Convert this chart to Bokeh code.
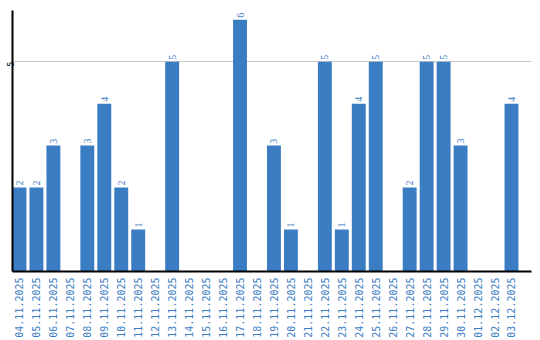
import math
from bokeh.plotting import figure
from bokeh.models import ColumnDataSource, Range1d, FixedTicker, LabelSet
from bokeh.embed import file_html
from bokeh.resources import INLINE

dates = ["04.11.2025", "05.11.2025", "06.11.2025", "07.11.2025", "08.11.2025",
         "09.11.2025", "10.11.2025", "11.11.2025", "12.11.2025", "13.11.2025",
         "14.11.2025", "15.11.2025", "16.11.2025", "17.11.2025", "18.11.2025",
         "19.11.2025", "20.11.2025", "21.11.2025", "22.11.2025", "23.11.2025",
         "24.11.2025", "25.11.2025", "26.11.2025", "27.11.2025", "28.11.2025",
         "29.11.2025", "30.11.2025", "01.12.2025", "02.12.2025", "03.12.2025"]
counts = [2, 2, 3, 0, 3, 4, 2, 1, 0, 5,
          0, 0, 0, 6, 0, 3, 1, 0, 5, 1,
          4, 5, 0, 2, 5, 5, 3, 0, 0, 4]
y_ticks = [5]

BLUE = "#3b7dc3"
FONT = "DejaVu Sans Mono"

xs = list(range(len(dates)))
nz = [i for i, c in enumerate(counts) if c > 0]
src = ColumnDataSource(dict(x=xs, y=counts))
lab_src = ColumnDataSource(dict(x=[xs[i] for i in nz], y=[counts[i] for i in nz],
                                t=[str(counts[i]) for i in nz]))

p = figure(width=540, height=340, output_backend="svg", toolbar_location=None,
           x_range=Range1d(-0.41, len(dates) + 0.18), y_range=Range1d(0, 6.22),
           min_border_left=0, min_border_right=9, min_border_top=10, min_border_bottom=0)
p.outline_line_color = None
p.background_fill_color = "white"

p.vbar(x="x", top="y", width=0.82, source=src, color=BLUE, line_color=None)

labels = LabelSet(x="x", y="y", text="t", source=lab_src, angle=math.pi / 2,
                  x_offset=0, y_offset=2, text_align="left", text_baseline="middle",
                  text_font=FONT, text_font_size="10px", text_color=BLUE)
p.add_layout(labels)

p.xgrid.grid_line_color = None
p.ygrid.grid_line_color = "#c8c8c8"
p.ygrid.grid_line_width = 1

p.xaxis.ticker = FixedTicker(ticks=xs)
p.xaxis.major_label_overrides = {i: d for i, d in enumerate(dates)}
p.xaxis.major_label_orientation = math.pi / 2
p.xaxis.major_label_text_font = FONT
p.xaxis.major_label_text_font_size = "10px"
p.xaxis.major_label_text_color = BLUE
p.xaxis.major_tick_line_color = None
p.xaxis.minor_tick_line_color = None
p.xaxis.major_tick_out = 0
p.xaxis.major_label_standoff = 6
p.xaxis.axis_line_color = "black"
p.xaxis.axis_line_width = 2

p.yaxis.ticker = FixedTicker(ticks=y_ticks)
p.yaxis.major_label_orientation = math.pi / 2
p.yaxis.major_label_text_font = FONT
p.yaxis.major_label_text_font_size = "8px"
p.yaxis.major_label_text_color = "black"
p.yaxis.major_tick_line_color = None
p.yaxis.minor_tick_line_color = None
p.yaxis.major_tick_out = 0
p.yaxis.major_label_standoff = 2
p.yaxis.axis_line_color = "black"
p.yaxis.axis_line_width = 2

open("out.html", "w").write(file_html(p, INLINE))
